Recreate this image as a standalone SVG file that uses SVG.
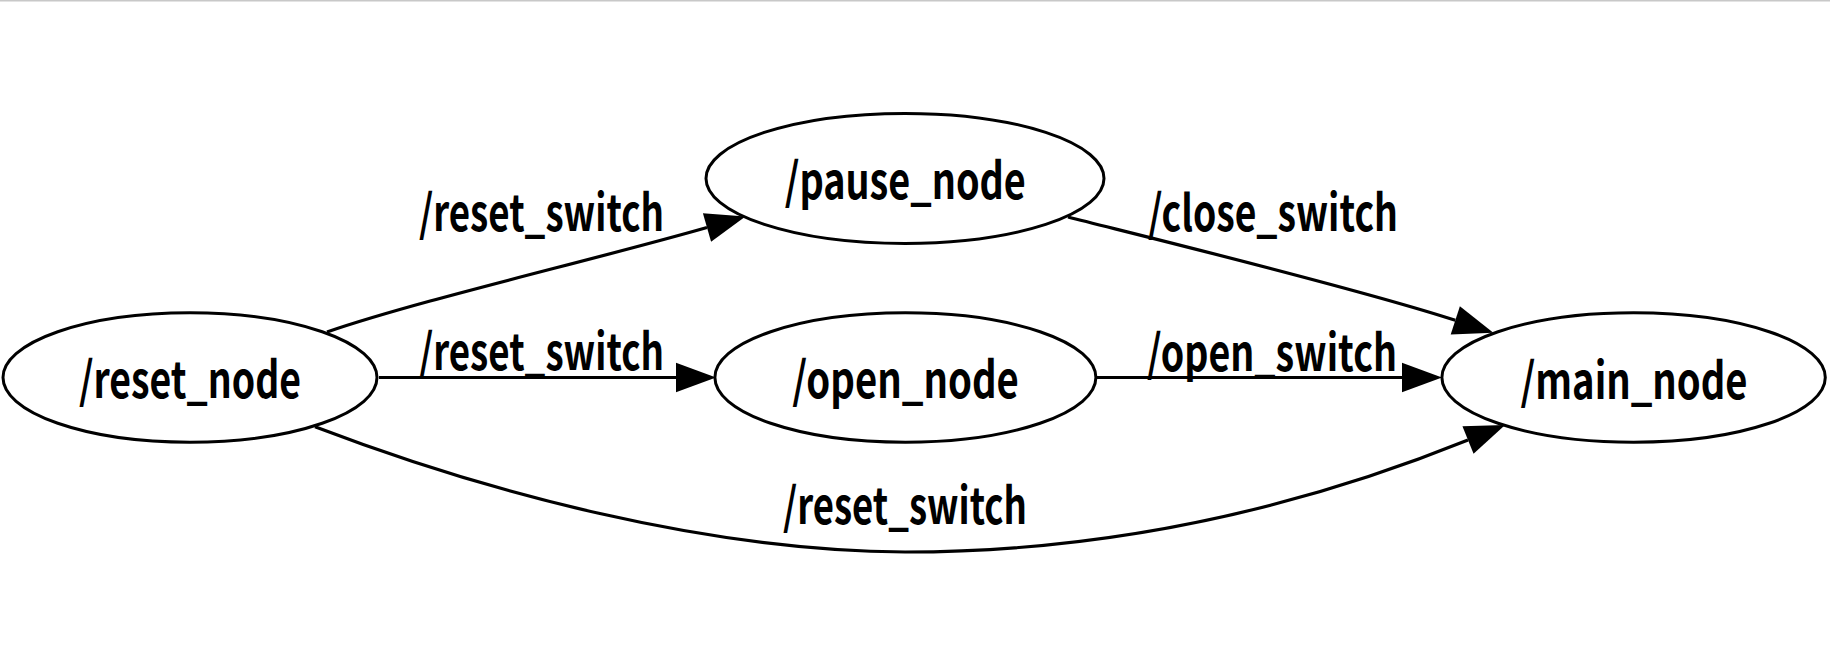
<svg xmlns="http://www.w3.org/2000/svg" width="1830" height="670" viewBox="0 0 1830 670">
<style>
.node ellipse{fill:none;stroke:#000;stroke-width:3}
.edge{fill:none;stroke:#000;stroke-width:3.2}
text{font-family:"Noto Sans CJK JP","Noto Sans",sans-serif;font-size:50px;font-weight:700;fill:#000;text-anchor:middle}
</style>
<defs>
<marker id="arrow" markerUnits="userSpaceOnUse" markerWidth="40" markerHeight="30" viewBox="0 0 39 29" refX="0" refY="14.5" orient="auto" overflow="visible">
<path d="M0,0 L39,14.5 L0,29 Z" fill="#000"/>
</marker>
</defs>
<rect x="0" y="0" width="1830" height="670" fill="#fff"/>
<line x1="0" y1="0.75" x2="1830" y2="0.75" stroke="#c8c8c8" stroke-width="1.5"/>
<g id="edges">
<path class="edge" d="M327,332 C420,300 590,261 707,227.5" marker-end="url(#arrow)"/>
<path class="edge" d="M379,377.5 H676" marker-end="url(#arrow)"/>
<path class="edge" d="M315,426.7 C485,491.6 705,551 905,552 C1060,552 1250,528 1468,440" marker-end="url(#arrow)"/>
<path class="edge" d="M1068,217 C1148,237.3 1355,287.7 1455.3,320.3" marker-end="url(#arrow)"/>
<path class="edge" d="M1096,377.5 H1402" marker-end="url(#arrow)"/>
<text x="541.5" y="231" textLength="245" lengthAdjust="spacingAndGlyphs">/reset_switch</text>
<text x="541.5" y="370" textLength="245" lengthAdjust="spacingAndGlyphs">/reset_switch</text>
<text x="905" y="524" textLength="244" lengthAdjust="spacingAndGlyphs">/reset_switch</text>
<text x="1273" y="231" textLength="250" lengthAdjust="spacingAndGlyphs">/close_switch</text>
<text x="1272" y="370.5" textLength="250" lengthAdjust="spacingAndGlyphs">/open_switch</text>
</g>
<g id="reset_node" class="node">
<ellipse cx="190" cy="377.5" rx="187" ry="64.7"/>
<text x="190" y="398.3" textLength="222" lengthAdjust="spacingAndGlyphs">/reset_node</text>
</g>
<g id="pause_node" class="node">
<ellipse cx="905" cy="178.4" rx="199" ry="65"/>
<text x="905.3" y="199.2" textLength="241" lengthAdjust="spacingAndGlyphs">/pause_node</text>
</g>
<g id="open_node" class="node">
<ellipse cx="905.4" cy="377.5" rx="190.5" ry="64.7"/>
<text x="905.6" y="398.3" textLength="226.5" lengthAdjust="spacingAndGlyphs">/open_node</text>
</g>
<g id="main_node" class="node">
<ellipse cx="1633.6" cy="377.5" rx="191.7" ry="64.7"/>
<text x="1634" y="399" textLength="227" lengthAdjust="spacingAndGlyphs">/main_node</text>
</g>
</svg>
